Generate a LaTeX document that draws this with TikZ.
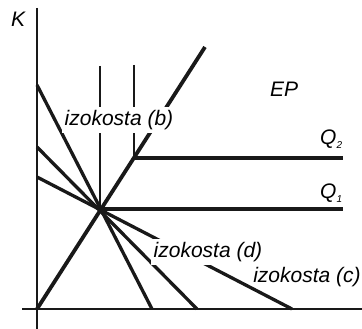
\documentclass[tikz,border=0pt]{standalone}
\usepackage{fontspec}
\setsansfont{Liberation Sans}
\usetikzlibrary{positioning, calc}

\begin{document}
\begin{tikzpicture}[
  x=1pt, y=-1pt,
  ax/.style={line width=2pt, black!90},
  ray/.style={line width=3.8pt, black!90},
  qline/.style={line width=3.2pt, black!90},
  vline/.style={line width=2.6pt, black!90},
  iso/.style={line width=3.3pt, black!90},
  lbl/.style={font=\sffamily\itshape\fontsize{21}{21}\selectfont, text=black, inner sep=0pt},
  tag/.style={lbl, fill=white, inner sep=3pt}
]
  \useasboundingbox (0,0) rectangle (362,329);

  % Coordinates
  \coordinate (o) at (37,309);
  \coordinate (ytop) at (37,8);
  \coordinate (ybot) at (37,329);
  \coordinate (xl) at (22,309);
  \coordinate (xr) at (362,309);
  \coordinate (p) at (100,209);
  \coordinate (c2) at (134,158);
  \coordinate (rtop) at (205,47);

  % Axes
  \draw[ax] (ytop) -- (ybot);
  \draw[ax] (xl) -- (xr);

  % Expansion path and isoquants
  \draw[ray] (o) -- (rtop);
  \draw[qline] (p) -- (343,209);
  \draw[qline] (c2) -- (343,158);
  \draw[vline] (100,66) -- (p);
  \draw[vline] (134,65) -- (c2);

  % Isocosts
  \draw[iso] (37,85) -- (152,309);
  \draw[iso] (37,147) -- (197,309);
  \draw[iso] (37,177) -- (292,309);

  % Labels
  \node[lbl, anchor=base west] (k) at (11,27) {K};
  \node[lbl, anchor=base west] (ep) at (270,96) {EP};
  \node[lbl, anchor=base west] (q2) at (320,145) {Q\raisebox{-4pt}{\fontsize{10}{10}\selectfont 2}};
  \node[lbl, anchor=base west] (q1) at (320,198) {Q\raisebox{-4pt}{\fontsize{10}{10}\selectfont 1}};
  \node[tag] (izb) at (119,120) {izokosta (b)};
  \node[tag] (izd) at (208,252) {izokosta (d)};
  \node[lbl] (izc) at (307,277) {izokosta (c)};
\end{tikzpicture}
\end{document}
